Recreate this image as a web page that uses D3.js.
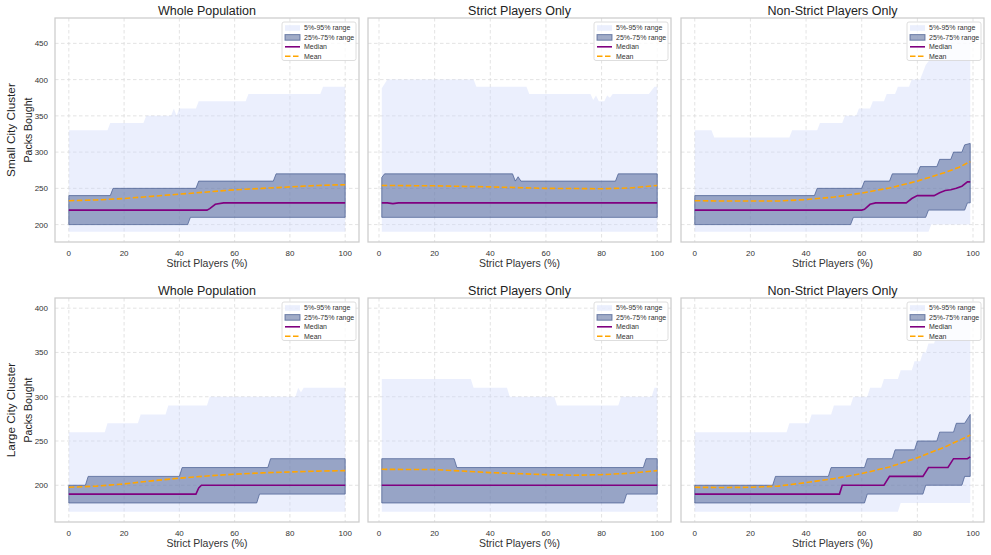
<!DOCTYPE html>
<meta charset="utf-8">
<script src="https://d3js.org/d3.v7.min.js"></script>
<body style="margin:0;background:#fff">
<div id="my_dataviz"></div>
<script>

// ---- values: [strict players %, packs bought] breakpoints ----

// Small city cluster, whole population
const smallWholeP95 = [[0,330],[14,330],[15,340],[27,340],[28,350],[37,350],[38,360],[39,350],[40,360],[46,360],[47,370],[64,370],[65,380],[91,380],[92,390],[100,390]];
const smallWholeP5  = [[0,190],[100,190]];
const smallWholeP75 = [[0,240],[15,240],[16,250],[46,250],[47,260],[74,260],[75,270],[100,270]];
const smallWholeP25 = [[0,200],[43,200],[44,210],[100,210]];
const smallWholeMedian = [[0,220],[50,220],[51,222],[53,228],[56,230],[100,230]];
const smallWholeMean = [[0,233],[10,234],[20,236],[30,239],[40,242],[50,245],[60,248],[70,250],[80,252],[90,254],[100,255]];

// Small city cluster, strict players only
const smallStrictP95 = [[1,388],[3,400],[34,400],[35,390],[53,390],[54,380],[76,380],[77,372],[78,378],[79,370],[81,370],[82,378],[83,375],[84,380],[97,380],[99,390],[100,390]];
const smallStrictP5  = [[1,190],[100,190]];
const smallStrictP75 = [[1,265],[2,270],[48,270],[49,260],[50,266],[51,260],[85,260],[86,270],[100,270]];
const smallStrictP25 = [[1,210],[100,210]];
const smallStrictMedian = [[1,230],[3,230],[5,229],[7,230],[100,230]];
const smallStrictMean = [[1,254],[20,253.5],[40,252],[60,250],[80,249.5],[90,250.5],[100,254]];

// Small city cluster, non-strict players only
const smallNonP95 = [[0,330],[6,330],[7,320],[34,320],[35,330],[44,330],[45,340],[53,340],[54,350],[58,350],[59,360],[63,360],[64,370],[68,370],[69,380],[72,380],[73,390],[77,390],[78,400],[81,400],[82,410],[83,420],[85,430],[86,440],[89,450],[92,460],[96,470],[99,470]];
const smallNonP5  = [[0,190],[84,190],[85,200],[99,200]];
const smallNonP75 = [[0,240],[43,240],[44,250],[60,250],[61,260],[70,260],[71,270],[80,270],[81,280],[87,280],[88,290],[92,290],[93,300],[96,300],[97,310],[99,312]];
const smallNonP25 = [[0,200],[56,200],[57,210],[83,210],[84,220],[97,220],[98,230],[99,230]];
const smallNonMedian = [[0,220],[60,220],[61,221],[63,228],[65,230],[76,230],[78,236],[80,240],[86,240],[88,244],[90,247],[92,248],[94,250],[96,253],[98,259],[99,259]];
const smallNonMean = [[0,233],[10,232.5],[20,232.5],[30,232.5],[40,234.5],[50,238],[60,243.5],[70,250.5],[80,260],[90,272],[95,279],[99,287]];

// Large city cluster, whole population
const largeWholeP95 = [[0,260],[13,260],[14,270],[25,270],[26,280],[35,280],[36,290],[50,290],[51,300],[82,300],[83,310],[84,305],[85,310],[100,310]];
const largeWholeP5  = [[0,170],[100,170]];
const largeWholeP75 = [[0,200],[6,200],[7,210],[40,210],[41,220],[72,220],[73,230],[100,230]];
const largeWholeP25 = [[0,180],[68,180],[69,190],[100,190]];
const largeWholeMedian = [[0,190],[46,190],[47,197],[48,200],[100,200]];
const largeWholeMean = [[0,197.7],[10,199],[20,201.5],[30,205],[40,208],[50,210.5],[60,212.5],[70,214],[80,215],[90,216],[100,216.5]];

// Large city cluster, strict players only
const largeStrictP95 = [[1,320],[33,320],[34,310],[46,310],[47,300],[63,300],[64,290],[86,290],[87,300],[98,300],[99,310],[100,310]];
const largeStrictP5  = [[1,170],[100,170]];
const largeStrictP75 = [[1,230],[27,230],[28,220],[95,220],[96,230],[100,230]];
const largeStrictP25 = [[1,180],[88,180],[89,190],[100,190]];
const largeStrictMedian = [[1,200],[100,200]];
const largeStrictMean = [[1,218],[20,217.7],[40,214.3],[60,212],[70,211.3],[80,212],[90,213.5],[100,216.5]];

// Large city cluster, non-strict players only
const largeNonP95 = [[0,260],[33,260],[34,270],[41,270],[42,280],[49,280],[50,290],[56,290],[57,300],[62,300],[63,310],[67,310],[68,320],[73,320],[74,330],[78,330],[79,340],[81,340],[82,350],[83,350],[84,360],[86,360],[87,370],[89,380],[92,390],[95,400],[99,400]];
const largeNonP5  = [[0,170],[73,170],[74,180],[99,180]];
const largeNonP75 = [[0,200],[28,200],[29,210],[48,210],[49,220],[61,220],[62,230],[71,230],[72,240],[79,240],[80,250],[87,250],[88,260],[93,260],[94,270],[97,270],[98,275],[99,280]];
const largeNonP25 = [[0,180],[61,180],[62,190],[82,190],[83,200],[96,200],[97,210],[99,210]];
const largeNonMedian = [[0,190],[52,190],[53,200],[68,200],[70,210],[82,210],[84,220],[91,220],[93,230],[98,230],[99,232]];
const largeNonMean = [[0,197.7],[10,197.5],[20,197.7],[30,199],[40,203],[50,207.5],[60,213.2],[70,220.7],[80,231],[90,243.4],[99,256.6]];

// titles and tick labels
const colTitles = ["Whole Population", "Strict Players Only", "Non-Strict Players Only"];
const rowLabels = ["Small City Cluster", "Large City Cluster"];
const xTicks = [0, 20, 40, 60, 80, 100];
const smallTicks = [200, 250, 300, 350, 400, 450];
const largeTicks = [200, 250, 300, 350, 400];
const legendLabels = ["5%-95% range", "25%-75% range", "Median", "Mean"];

// ---- layout ----
const cols = [
  {left: 55,  right: 359, xdom: [-5, 105]},
  {left: 368, right: 671, xdom: [-3.95, 104.95]},
  {left: 681, right: 984, xdom: [-4.95, 103.95]}
];
const rows = [
  {top: 18,  bottom: 242, ydom: [176, 485],   ticks: smallTicks},
  {top: 298, bottom: 522, ydom: [158.5, 411.5], ticks: largeTicks}
];

const panels = [
  {r:0, c:0, p95:smallWholeP95,  p5:smallWholeP5,  p75:smallWholeP75,  p25:smallWholeP25,  med:smallWholeMedian,  mean:smallWholeMean},
  {r:0, c:1, p95:smallStrictP95, p5:smallStrictP5, p75:smallStrictP75, p25:smallStrictP25, med:smallStrictMedian, mean:smallStrictMean},
  {r:0, c:2, p95:smallNonP95,    p5:smallNonP5,    p75:smallNonP75,    p25:smallNonP25,    med:smallNonMedian,    mean:smallNonMean},
  {r:1, c:0, p95:largeWholeP95,  p5:largeWholeP5,  p75:largeWholeP75,  p25:largeWholeP25,  med:largeWholeMedian,  mean:largeWholeMean},
  {r:1, c:1, p95:largeStrictP95, p5:largeStrictP5, p75:largeStrictP75, p25:largeStrictP25, med:largeStrictMedian, mean:largeStrictMean},
  {r:1, c:2, p95:largeNonP95,    p5:largeNonP5,    p75:largeNonP75,    p25:largeNonP25,    med:largeNonMedian,    mean:largeNonMean}
];

const outerColor = "#ccd7fa", innerColor = "#445a8f";
const medianColor = "#800080", meanColor = "#ffa500";
const textColor = "#333", frameColor = "#cccccc", gridColor = "#dcdcdc";

const svg = d3.select("#my_dataviz")
  .append("svg")
  .attr("width", 991)
  .attr("height", 555)
  .style("font-family", "'Liberation Sans', Arial, sans-serif");

panels.forEach(function(p, i) {
  const col = cols[p.c], row = rows[p.r];
  const x = d3.scaleLinear().domain(col.xdom).range([col.left, col.right]);
  const y = d3.scaleLinear().domain(row.ydom).range([row.bottom, row.top]);
  const g = svg.append("g");

  g.append("clipPath").attr("id", "clip" + i)
    .append("rect")
    .attr("x", col.left).attr("y", row.top)
    .attr("width", col.right - col.left).attr("height", row.bottom - row.top);

  // grid
  g.selectAll(".gx").data(xTicks).enter().append("line")
    .attr("x1", d => x(d)).attr("x2", d => x(d))
    .attr("y1", row.top).attr("y2", row.bottom)
    .attr("stroke", gridColor).attr("stroke-width", 0.8).attr("stroke-dasharray", "3.5,2.5");
  g.selectAll(".gy").data(row.ticks).enter().append("line")
    .attr("x1", col.left).attr("x2", col.right)
    .attr("y1", d => y(d)).attr("y2", d => y(d))
    .attr("stroke", gridColor).attr("stroke-width", 0.8).attr("stroke-dasharray", "3.5,2.5");

  const line = d3.line().x(d => x(d[0])).y(d => y(d[1]));
  const band = (upper, lower) => line(upper.concat(lower.slice().reverse())) + "Z";

  const plot = g.append("g").attr("clip-path", "url(#clip" + i + ")");

  plot.append("path")
    .attr("d", band(p.p95, p.p5))
    .attr("fill", outerColor).attr("fill-opacity", 0.4);

  plot.append("path")
    .attr("d", band(p.p75, p.p25))
    .attr("fill", innerColor).attr("fill-opacity", 0.5)
    .attr("stroke", innerColor).attr("stroke-opacity", 0.7).attr("stroke-width", 1);

  plot.append("path")
    .attr("d", line(p.med))
    .attr("fill", "none").attr("stroke", medianColor).attr("stroke-width", 1.6);

  plot.append("path")
    .attr("d", line(p.mean))
    .attr("fill", "none").attr("stroke", meanColor).attr("stroke-width", 1.6)
    .attr("stroke-dasharray", "5.5,2.5");

  // frame
  g.append("rect")
    .attr("x", col.left).attr("y", row.top)
    .attr("width", col.right - col.left).attr("height", row.bottom - row.top)
    .attr("fill", "none").attr("stroke", frameColor).attr("stroke-width", 1.25);

  // x tick labels + label
  g.selectAll(".tx").data(xTicks).enter().append("text")
    .attr("x", d => x(d)).attr("y", row.bottom + 14)
    .attr("text-anchor", "middle").attr("font-size", 8).attr("fill", textColor)
    .text(d => d);
  g.append("text")
    .attr("x", (col.left + col.right) / 2).attr("y", row.bottom + 24.5)
    .attr("text-anchor", "middle").attr("font-size", 10.5).attr("fill", textColor)
    .text("Strict Players (%)");

  // title
  g.append("text")
    .attr("x", (col.left + col.right) / 2).attr("y", row.top - 3.5)
    .attr("text-anchor", "middle").attr("font-size", 12.5).attr("fill", "#222")
    .text(colTitles[p.c]);

  // y tick labels and label on first column
  if (p.c === 0) {
    g.selectAll(".ty").data(row.ticks).enter().append("text")
      .attr("x", col.left - 7).attr("y", d => y(d) + 3)
      .attr("text-anchor", "end").attr("font-size", 8).attr("fill", textColor)
      .text(d => d);
    const cy = (row.top + row.bottom) / 2;
    g.append("text")
      .attr("transform", `translate(14.5,${cy}) rotate(-90)`)
      .attr("text-anchor", "middle").attr("font-size", 11.8).attr("fill", "#222")
      .text(rowLabels[p.r]);
    g.append("text")
      .attr("transform", `translate(32,${cy}) rotate(-90)`)
      .attr("text-anchor", "middle").attr("font-size", 10.5).attr("fill", "#222")
      .text("Packs Bought");
  }

  // legend
  const lw = 74, lh = 38.5;
  const lx = col.right - 3 - lw, ly = row.top + 4;
  const lg = g.append("g").attr("transform", `translate(${lx},${ly})`);
  lg.append("rect").attr("width", lw).attr("height", lh).attr("rx", 2)
    .attr("fill", "#fff").attr("fill-opacity", 0.8)
    .attr("stroke", "#d6d6d6").attr("stroke-width", 0.8);
  legendLabels.forEach(function(lab, k) {
    const cyk = 6 + k * 9.4;
    if (k === 0) {
      lg.append("rect").attr("x", 3).attr("y", cyk - 2.8).attr("width", 15).attr("height", 5.6)
        .attr("fill", outerColor).attr("fill-opacity", 0.4);
    } else if (k === 1) {
      lg.append("rect").attr("x", 3).attr("y", cyk - 2.8).attr("width", 15).attr("height", 5.6)
        .attr("fill", innerColor).attr("fill-opacity", 0.5)
        .attr("stroke", innerColor).attr("stroke-opacity", 0.7).attr("stroke-width", 1);
    } else {
      lg.append("line").attr("x1", 3).attr("x2", 18).attr("y1", cyk).attr("y2", cyk)
        .attr("stroke", k === 2 ? medianColor : meanColor).attr("stroke-width", 1.6)
        .attr("stroke-dasharray", k === 3 ? "5.5,2.5" : null);
    }
    lg.append("text").attr("x", 22).attr("y", cyk + 2.4)
      .attr("font-size", 7).attr("fill", textColor).text(lab);
  });
});
</script>
</body>
